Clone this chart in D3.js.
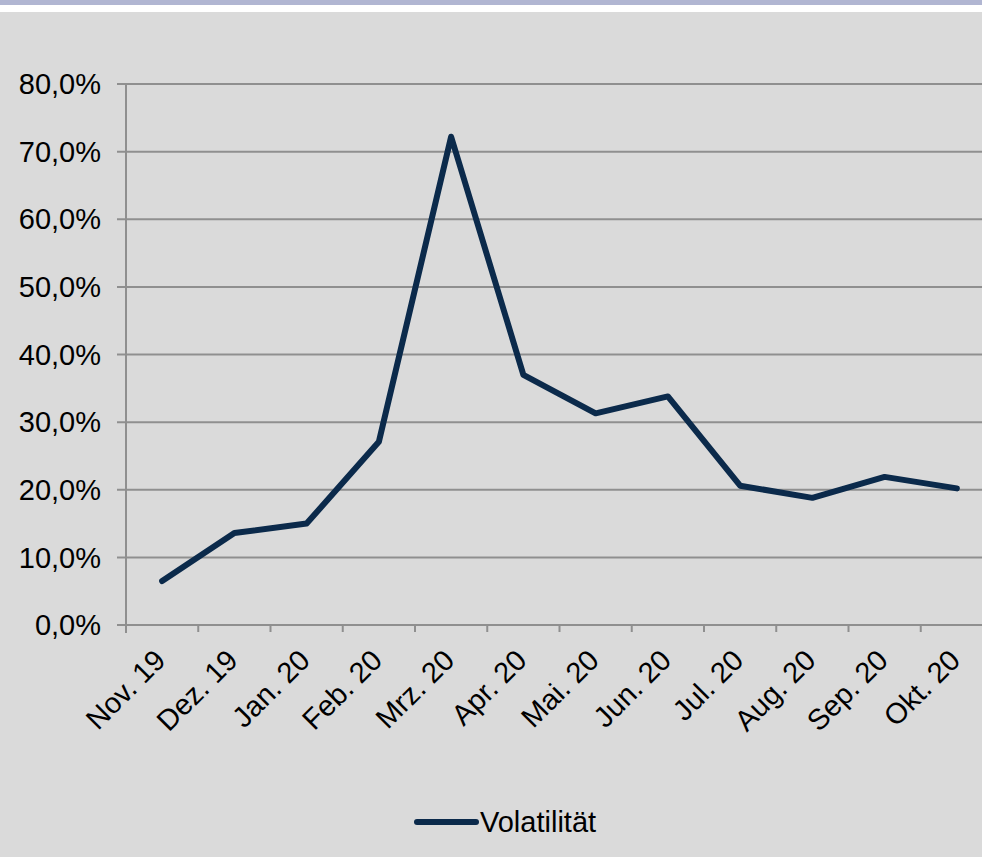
<!DOCTYPE html>
<meta charset="utf-8">
<style>
  body { margin: 0; background: #ffffff; }
  text { font-family: "Liberation Sans", Arial, sans-serif; fill: #000; }
  .grid line { stroke: #8f8f8f; stroke-width: 2px; }
</style>
<script src="https://d3js.org/d3.v7.min.js"></script>
<div id="chart"></div>
<script>
// months and volatility (%)
var months = ["Nov. 19", "Dez. 19", "Jan. 20", "Feb. 20", "Mrz. 20", "Apr. 20",
              "Mai. 20", "Jun. 20", "Jul. 20", "Aug. 20", "Sep. 20", "Okt. 20"];
var volatility = [6.5, 13.6, 15.0, 27.1, 72.2, 37.0, 31.3, 33.8, 20.6, 18.8, 21.9, 20.2];
var yTicks = [0, 10, 20, 30, 40, 50, 60, 70, 80];
var seriesName = "Volatilität";

var width = 982, height = 857;
var plotLeft = 126, plotTop = 84, plotBottom = 625;
var bandW = 72.25;

var svg = d3.select("#chart").append("svg")
    .attr("width", width)
    .attr("height", height);

// top strip + grey panel
svg.append("rect").attr("width", width).attr("height", 5).attr("fill", "#b1b6d2");
svg.append("rect").attr("y", 12).attr("width", width).attr("height", height - 12).attr("fill", "#dadada");

var x = d3.scaleBand()
    .domain(months)
    .range([plotLeft, plotLeft + bandW * months.length]);

var y = d3.scaleLinear()
    .domain([0, 80])
    .range([plotBottom, plotTop]);

var fmt = function(d) { return d.toFixed(1).replace(".", ",") + "%"; };

// horizontal gridlines
svg.append("g")
    .attr("class", "grid")
  .selectAll("line")
  .data(yTicks)
  .enter().append("line")
    .attr("x1", plotLeft - 9)
    .attr("x2", width)
    .attr("y1", function(d) { return y(d); })
    .attr("y2", function(d) { return y(d); });

// y axis line
svg.append("line")
    .attr("x1", plotLeft).attr("x2", plotLeft)
    .attr("y1", plotTop).attr("y2", plotBottom + 8)
    .attr("stroke", "#8f8f8f").attr("stroke-width", 2);

// x ticks at band edges
var edges = months.map(function(m) { return x(m); });
svg.append("g").selectAll("line")
  .data(edges.slice(1))
  .enter().append("line")
    .attr("x1", function(d) { return d; })
    .attr("x2", function(d) { return d; })
    .attr("y1", plotBottom)
    .attr("y2", plotBottom + 7)
    .attr("stroke", "#8f8f8f").attr("stroke-width", 2);

// y labels
svg.append("g").selectAll("text")
  .data(yTicks)
  .enter().append("text")
    .attr("x", 101)
    .attr("y", function(d) { return y(d); })
    .attr("dy", "0.35em")
    .attr("text-anchor", "end")
    .style("font-size", "29px")
    .text(fmt);

// x labels, rotated
svg.append("g").selectAll("text")
  .data(months)
  .enter().append("text")
    .attr("text-anchor", "end")
    .attr("transform", function(d) {
      return "translate(" + (x(d) + x.bandwidth() / 2 + 5) + "," + 662 + ") rotate(-45)";
    })
    .style("font-size", "29px")
    .text(function(d) { return d; });

// the series
var line = d3.line()
    .x(function(d, i) { return x(months[i]) + x.bandwidth() / 2; })
    .y(function(d) { return y(d); });

svg.append("path")
    .datum(volatility)
    .attr("d", line)
    .attr("fill", "none")
    .attr("stroke", "#0b2a4b")
    .attr("stroke-width", 6)
    .attr("stroke-linejoin", "round")
    .attr("stroke-linecap", "round");

// legend
svg.append("line")
    .attr("x1", 417).attr("x2", 476)
    .attr("y1", 822).attr("y2", 822)
    .attr("stroke", "#0b2a4b")
    .attr("stroke-width", 6)
    .attr("stroke-linecap", "round");

svg.append("text")
    .attr("x", 480)
    .attr("y", 832)
    .style("font-size", "29px")
    .text(seriesName);
</script>
